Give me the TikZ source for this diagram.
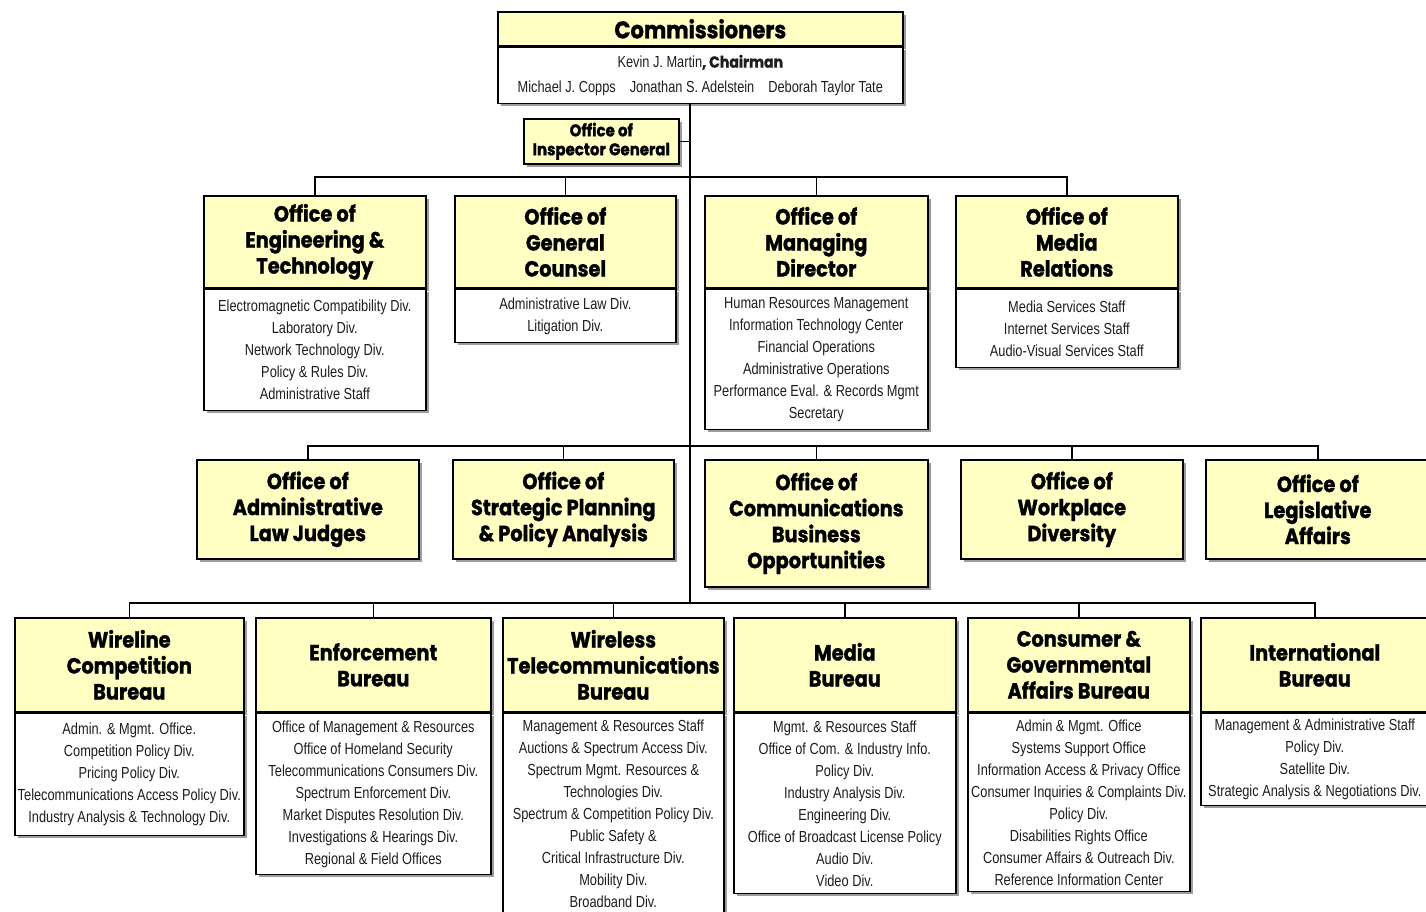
\documentclass[tikz,border=0pt]{standalone}
\usepackage{fontspec}
\setmainfont{Liberation Sans}
\newfontfamily\headfont{Poppins}[FakeStretch=0.88, FakeBold=1.2]
\newfontfamily\divfont{Liberation Sans}[FakeStretch=0.80]
\usetikzlibrary{positioning, shadows}
\definecolor{boxyellow}{RGB}{255,255,196}
\definecolor{divgray}{RGB}{30,30,30}
\tikzset{
  headbox/.style={draw=black, fill=boxyellow, line width=1.6pt, align=center, inner sep=2pt,
    font=\headfont\bfseries\fontsize{22}{26}\selectfont,
    drop shadow={shadow xshift=3pt, shadow yshift=-3pt, fill=black!55, opacity=0.7}},
  divbox/.style={draw=black, fill=white, line width=1.6pt, align=center, inner sep=1pt, text=divgray,
    font=\divfont\fontsize{16}{22}\selectfont,
    drop shadow={shadow xshift=3pt, shadow yshift=-3pt, fill=black!55, opacity=0.7}},
  link/.style={draw=black, line width=1.6pt}
}
\begin{document}
\begin{tikzpicture}[x=1pt, y=-1pt]
\clip (0,0) rectangle (1426,911);
\fill[white] (0,0) rectangle (1426,911);
%bus points on the trunk
\coordinate (j1) at (690,177);
\coordinate (j2) at (690,446);
\coordinate (j3) at (690,603);

%commissioners
\node[headbox, anchor=north west, minimum width=405pt, minimum height=34pt, font=\headfont\bfseries\fontsize{24}{26}\selectfont] (comm) at (497,11) {Commissioners};
\node[divbox, below=0pt of comm, minimum width=405pt, minimum height=56pt, font=\divfont\fontsize{16}{25}\selectfont] (comml) {Kevin J. Martin{\headfont\bfseries, Chairman}\\Michael J. Copps\hspace{14pt}Jonathan S. Adelstein\hspace{14pt}Deborah Taylor Tate};
\node[headbox, anchor=north west, minimum width=155pt, minimum height=45pt, font=\headfont\bfseries\fontsize{17}{19}\selectfont] (ig) at (523,118) {Office of\\Inspector General};

%offices, first row
\node[headbox, anchor=north west, minimum width=222pt, minimum height=92pt] (et) at (203,195) {Office of\\Engineering \&\\Technology};
\node[divbox, below=0pt of et, minimum width=222pt, minimum height=121pt] (etl) {Electromagnetic Compatibility Div.\\Laboratory Div.\\Network Technology Div.\\Policy \& Rules Div.\\Administrative Staff};
\node[headbox, anchor=north west, minimum width=221pt, minimum height=92pt] (gc) at (454,195) {Office of\\General\\Counsel};
\node[divbox, below=0pt of gc, minimum width=221pt, minimum height=53pt] (gcl) {Administrative Law Div.\\Litigation Div.};
\node[headbox, anchor=north west, minimum width=223pt, minimum height=92pt] (md) at (704,195) {Office of\\Managing\\Director};
\node[divbox, below=0pt of md, minimum width=223pt, minimum height=140pt] (mdl) {Human Resources Management\\Information Technology Center\\Financial Operations\\Administrative Operations\\Performance Eval. \& Records Mgmt\\Secretary};
\node[headbox, anchor=north west, minimum width=222pt, minimum height=92pt] (mr) at (955,195) {Office of\\Media\\Relations};
\node[divbox, below=0pt of mr, minimum width=222pt, minimum height=78pt] (mrl) {Media Services Staff\\Internet Services Staff\\Audio-Visual Services Staff};

%offices, second row
\node[headbox, anchor=north west, minimum width=222pt, minimum height=99pt] (alj) at (196,459) {Office of\\Administrative\\Law Judges};
\node[headbox, anchor=north west, minimum width=221pt, minimum height=99pt] (sppa) at (452,459) {Office of\\Strategic Planning\\\& Policy Analysis};
\node[headbox, anchor=north west, minimum width=223pt, minimum height=127pt] (cbo) at (704,459) {Office of\\Communications\\Business\\Opportunities};
\node[headbox, anchor=north west, minimum width=222pt, minimum height=99pt] (wd) at (960,459) {Office of\\Workplace\\Diversity};
\node[headbox, anchor=north west, minimum width=224pt, minimum height=99pt] (la) at (1205,459) {Office of\\Legislative\\Affairs};

%bureaus
\node[headbox, anchor=north west, minimum width=229pt, minimum height=94pt] (wcb) at (14,617) {Wireline\\Competition\\Bureau};
\node[divbox, below=0pt of wcb, minimum width=229pt, minimum height=122pt] (wcbl) {Admin. \& Mgmt. Office.\\Competition Policy Div.\\Pricing Policy Div.\\Telecommunications Access Policy Div.\\Industry Analysis \& Technology Div.};
\node[headbox, anchor=north west, minimum width=235pt, minimum height=94pt] (eb) at (255,617) {Enforcement\\Bureau};
\node[divbox, below=0pt of eb, minimum width=235pt, minimum height=161pt] (ebl) {Office of Management \& Resources\\Office of Homeland Security\\Telecommunications Consumers Div.\\Spectrum Enforcement Div.\\Market Disputes Resolution Div.\\Investigations \& Hearings Div.\\Regional \& Field Offices};
\node[headbox, anchor=north west, minimum width=221pt, minimum height=94pt] (wtb) at (502,617) {Wireless\\Telecommunications\\Bureau};
\node[divbox, below=0pt of wtb, minimum width=221pt, minimum height=201pt] (wtbl) {Management \& Resources Staff\\Auctions \& Spectrum Access Div.\\Spectrum Mgmt. Resources \&\\Technologies Div.\\Spectrum \& Competition Policy Div.\\Public Safety \&\\Critical Infrastructure Div.\\Mobility Div.\\Broadband Div.};
\node[headbox, anchor=north west, minimum width=222pt, minimum height=94pt] (mb) at (733,617) {Media\\Bureau};
\node[divbox, below=0pt of mb, minimum width=222pt, minimum height=180pt] (mbl) {Mgmt. \& Resources Staff\\Office of Com. \& Industry Info.\\Policy Div.\\Industry Analysis Div.\\Engineering Div.\\Office of Broadcast License Policy\\Audio Div.\\Video Div.};
\node[headbox, anchor=north west, minimum width=222pt, minimum height=94pt] (cgab) at (967,617) {Consumer \&\\Governmental\\Affairs Bureau};
\node[divbox, below=0pt of cgab, minimum width=222pt, minimum height=178pt] (cgabl) {Admin \& Mgmt. Office\\Systems Support Office\\Information Access \& Privacy Office\\Consumer Inquiries \& Complaints Div.\\Policy Div.\\Disabilities Rights Office\\Consumer Affairs \& Outreach Div.\\Reference Information Center};
\node[headbox, anchor=north west, minimum width=228pt, minimum height=94pt] (ib) at (1200,617) {International\\Bureau};
\node[divbox, below=0pt of ib, minimum width=228pt, minimum height=92pt] (ibl) {Management \& Administrative Staff\\Policy Div.\\Satellite Div.\\Strategic Analysis \& Negotiations Div.};

%connectors
\draw[link] (comml.south -| j1) -- (j3);
\draw[link] (ig.east) -- (ig.east -| j1);
\foreach \b in {et,gc,md,mr} {\draw[link] (\b.north) |- (j1);}
\foreach \b in {alj,sppa,cbo,wd,la} {\draw[link] (\b.north) |- (j2);}
\foreach \b in {wcb,eb,wtb,mb,cgab,ib} {\draw[link] (\b.north) |- (j3);}
\end{tikzpicture}
\end{document}
